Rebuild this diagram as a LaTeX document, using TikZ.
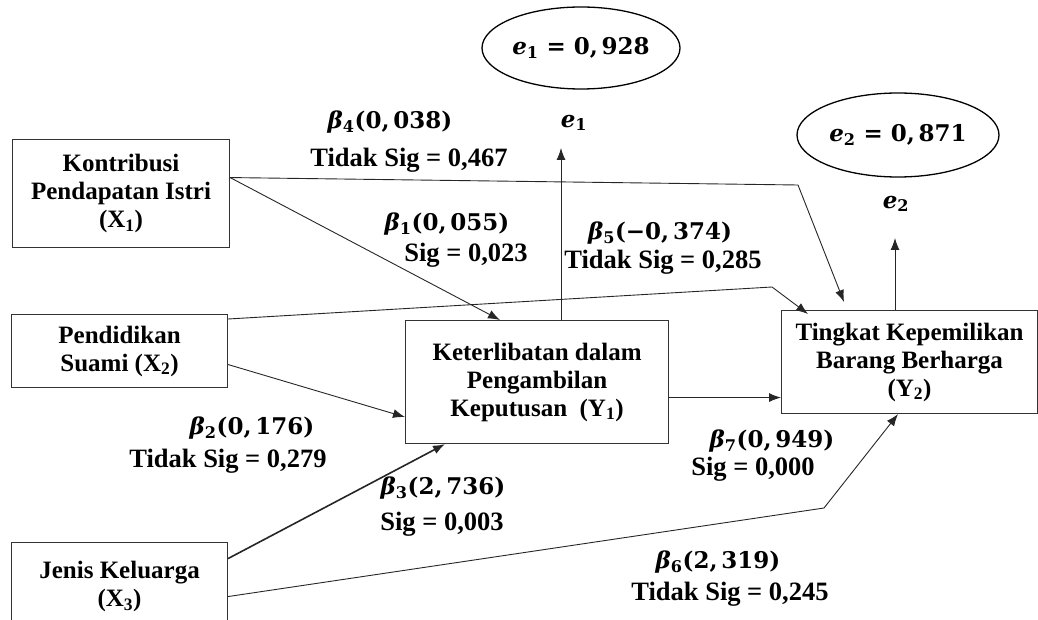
\documentclass[tikz,border=0pt]{standalone}
\usepackage{fontspec}
\setmainfont{Liberation Serif}
\newfontfamily\mfam{DejaVu Serif}
\newcommand\mlab[2]{{\mfam\bfseries\textit{#1}\textsubscript{#2}}}
\usetikzlibrary{arrows.meta,shapes.geometric}
\begin{document}
\begin{tikzpicture}[x=1pt,y=-1pt,
 box/.style={draw=black!80, line width=1.1pt, rectangle, align=center, font=\fontsize{25}{28}\selectfont\bfseries, inner sep=0pt},
 lbl/.style={font=\fontsize{26.5}{28}\selectfont\bfseries, inner sep=0pt},
 mlbl/.style={font=\fontsize{23}{26}\selectfont\mfam\bfseries, inner sep=0pt},
 conn/.style={draw=black!85, line width=0.9pt, -{Latex[length=12pt,width=9pt]}},
 ell/.style={draw, ellipse, line width=1.3pt, minimum width=198pt, minimum height=82pt, inner sep=0pt, font=\fontsize{23}{26}\selectfont\mfam\bfseries}
]
\useasboundingbox (0,0) rectangle (1038,620);
\clip (0,0) rectangle (1038,620);
% boxes
\node[box, anchor=north west, minimum width=217pt, minimum height=108pt] (x1) at (12,139) {Kontribusi\\Pendapatan Istri\\(X\textsubscript{1})};
\node[box, anchor=north west, minimum width=216pt, minimum height=73pt] (x2) at (11,314) {Pendidikan\\Suami (X\textsubscript{2})};
\node[box, anchor=north west, minimum width=216pt, minimum height=88pt] (x3) at (11,542) {Jenis Keluarga\\(X\textsubscript{3})};
\node[box, anchor=north west, minimum width=263pt, minimum height=123pt] (y1) at (405,320) {Keterlibatan dalam\\Pengambilan\\Keputusan~~(Y\textsubscript{1})};
\node[box, anchor=north west, minimum width=256pt, minimum height=103pt] (y2) at (781,310) {Tingkat Kepemilikan\\Barang Berharga\\(Y\textsubscript{2})};
% error terms
\node[ell] (e1v) at (581,48) {\mlab{e}{1} = 0,\,928};
\node[ell, minimum width=202pt, minimum height=84pt] (e2v) at (898,135) {\mlab{e}{2} = 0,\,871};
\node[mlbl] (e1) at (574,123) {\mlab{e}{1}};
\node[mlbl] (e2) at (896,204) {\mlab{e}{2}};
\coordinate (t1) at (561,148);
\coordinate (t2) at (895,238);
\draw[conn] (y1.north -| t1) -- (t1);
\draw[conn] (y2.north -| t2) -- (t2);
% connectors
\draw[conn] ([yshift=16pt]x1.east) -- (798,185) -- ([xshift=63pt,yshift=8pt]y2.north west);
\draw[conn] ([yshift=16pt]x1.east) -- ([xshift=95pt]y1.north west);
\draw[conn] ([yshift=-5pt]x2.north east) -- (772,287) -- ([xshift=27pt,yshift=-4pt]y2.north west);
\draw[conn] ([yshift=-13.5pt]x2.east) -- ([yshift=-35pt]y1.west);
\draw[conn, line width=1.6pt] ([yshift=28pt]x3.east) -- ([xshift=40pt]y1.south west);
\draw[conn] ([yshift=-10pt]x3.east) -- (824,508) -- ([xshift=117pt]y2.south west);
\draw[conn] ([yshift=-15.5pt]y1.east) -- ([yshift=-15.5pt]y1.east -| y2.west);
% labels
\node[mlbl] (b4) at (390,122) {\mlab{β}{4}(0,\,038)};
\node[lbl] (s4) at (409,160) {Tidak Sig = 0,467};
\node[mlbl] (b1) at (447,224) {\mlab{β}{1}(0,\,055)};
\node[lbl] (s1) at (466,255) {Sig = 0,023};
\node[mlbl] (b5) at (660,233) {\mlab{β}{5}(−0,\,374)};
\node[lbl] (s5) at (663,262) {Tidak Sig = 0,285};
\node[mlbl] (b2) at (252,428) {\mlab{β}{2}(0,\,176)};
\node[lbl] (s2) at (228,461) {Tidak Sig = 0,279};
\node[mlbl] (b3) at (443,488) {\mlab{β}{3}(2,\,736)};
\node[lbl] (s3) at (442,524) {Sig = 0,003};
\node[mlbl] (b7) at (772,441) {\mlab{β}{7}(0,\,949)};
\node[lbl] (s7) at (753,469) {Sig = 0,000};
\node[mlbl] (b6) at (718,562) {\mlab{β}{6}(2,\,319)};
\node[lbl] (s6) at (730,594) {Tidak Sig = 0,245};
\end{tikzpicture}
\end{document}
